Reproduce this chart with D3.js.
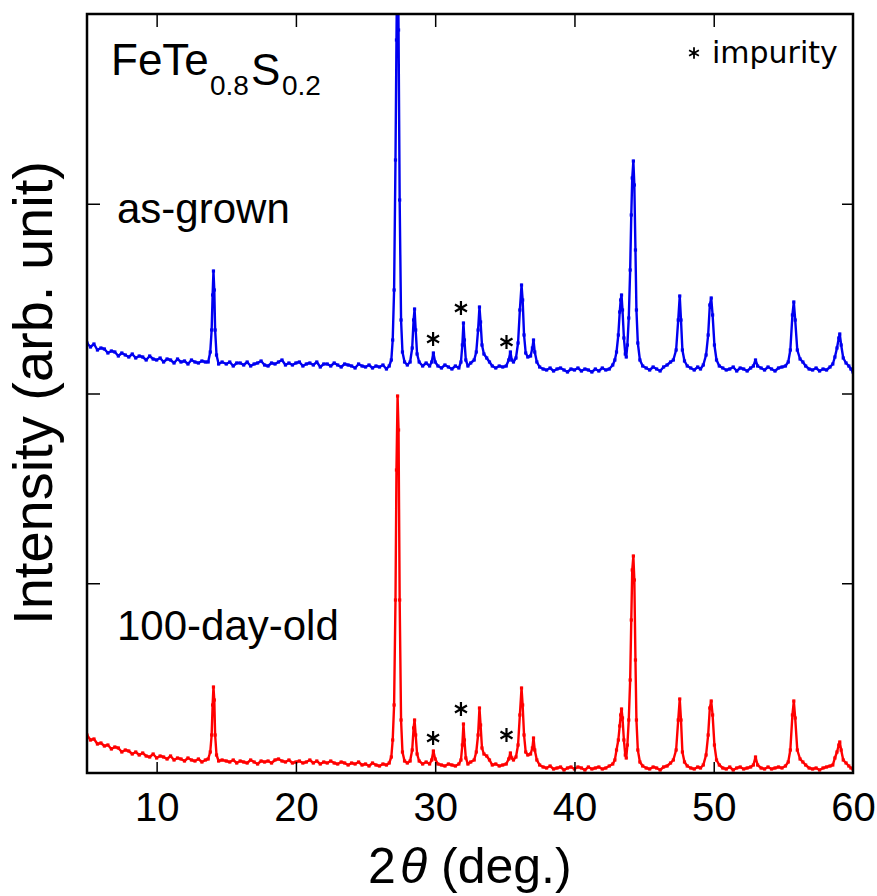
<!DOCTYPE html>
<html><head><meta charset="utf-8">
<script src="https://cdn.jsdelivr.net/npm/d3@7"></script>
<style>body{margin:0;background:#fff}svg{display:block}</style>
</head><body>
<script>
// 2θ (deg.) grid shared by both patterns
const angles = [5.0,5.25,5.5,5.75,6.0,6.25,6.5,6.75,7.0,7.25,7.5,7.75,8.0,8.25,8.5,8.75,9.0,9.25,9.5,9.75,10.0,10.25,10.5,10.75,11.0,11.25,11.5,11.75,12.0,12.25,12.5,12.75,13.0,13.25,13.5,
13.7,13.85,13.95,14.02,14.08,14.14,14.2,14.3,14.45,
14.7,15.0,15.25,15.5,15.75,16.0,16.25,16.5,16.75,17.0,17.25,17.5,17.75,18.0,18.25,18.5,18.75,19.0,19.25,19.5,19.75,20.0,20.25,20.5,20.75,21.0,21.25,21.5,21.75,22.0,22.25,22.5,22.75,23.0,23.25,23.5,23.75,24.0,24.25,24.5,24.75,25.0,25.25,25.5,25.75,26.0,26.25,26.5,
26.7,26.85,26.95,27.05,27.15,27.22,27.3,27.37,27.45,27.55,27.65,27.8,28.0,28.2,28.35,28.45,28.52,28.6,28.7,28.85,29.1,29.35,29.6,29.75,29.87,30.0,
30.2,30.45,30.7,30.95,31.2,31.45,31.7,
31.85,31.95,32.03,32.1,32.2,32.35,32.55,32.8,32.95,33.08,33.18,33.26,33.36,33.5,33.7,33.9,
34.1,34.35,34.6,34.85,35.1,
35.28,35.4,35.5,35.62,35.8,35.95,36.08,36.2,36.28,36.38,36.5,36.65,36.85,36.98,37.06,37.15,37.3,
37.5,37.75,38.0,38.25,38.5,38.75,39.0,39.25,39.5,39.75,40.0,40.25,40.5,40.75,41.0,41.25,41.5,41.75,42.0,42.25,42.5,42.75,
42.9,43.02,43.15,43.25,43.32,43.38,43.45,43.55,43.65,43.72,43.8,43.9,44.0,44.08,44.15,44.23,44.3,44.38,44.45,44.55,44.7,44.9,
45.15,45.4,45.65,45.9,46.15,46.4,
46.65,46.9,47.1,47.3,47.45,47.56,47.65,47.75,47.9,48.1,
48.35,48.6,48.85,49.05,
49.25,49.45,49.6,49.72,49.82,49.92,50.05,50.2,50.4,
50.65,50.9,51.15,51.4,51.65,51.9,52.15,52.4,52.65,
52.85,53.0,53.15,
53.4,53.65,53.9,54.15,54.4,54.65,54.9,55.15,
55.35,55.5,55.65,55.75,55.85,56.0,56.2,56.4,56.6,
56.85,57.1,57.35,57.6,57.85,58.1,58.35,
58.55,58.7,58.85,58.98,59.05,59.15,59.3,59.5,59.7,59.85,60.0];

// as-grown intensity (arb.), drawn with a vertical offset
const asGrown = [50,46,49,43,45,44,40,42,41,37,40,38,36,39,35,37,36,33,37,34,33,35,31,34,33,30,34,31,32,29,33,31,30,32,31,
31,41,63,98,122,103,63,38,29,
31,29,31,27,30,30,28,31,27,29,30,32,28,27,30,29,31,33,28,30,28,30,31,27,29,30,28,31,26,29,29,27,30,28,26,29,28,27,25,29,27,26,28,25,27,26,28,24,
27,33,53,103,233,353,473,363,193,73,41,31,28,31,45,73,84,63,39,31,27,30,27,31,40,31,
27,25,28,26,24,27,25,
31,48,70,53,33,27,30,33,41,63,86,71,48,39,35,31,
27,25,27,26,27,
33,41,33,31,35,50,83,108,93,58,40,36,37,45,53,41,31,
26,24,23,25,22,24,25,23,21,24,23,25,22,24,23,21,24,22,25,23,24,28,
33,41,58,81,93,98,83,55,39,36,48,75,123,178,215,232,208,143,83,50,33,27,
25,23,26,24,22,26,
28,31,33,43,73,97,73,43,32,27,
25,23,26,24,
28,38,58,88,95,78,48,33,27,
25,23,24,26,22,25,24,22,25,
27,33,27,
25,23,26,24,22,25,26,27,
31,43,78,91,73,43,34,31,27,
24,23,25,22,24,23,26,
29,36,45,55,59,48,35,30,27,24,21];

// 100-day-old intensity (arb.)
const dayOld = [38,33,34,29,30,27,28,24,26,25,21,23,22,19,21,18,20,17,16,19,15,17,16,14,17,13,15,14,12,15,13,12,14,11,13,
14,21,38,68,86,73,38,18,12,
13,12,11,13,10,12,11,10,13,11,9,12,11,12,10,13,14,12,11,13,10,11,12,10,11,13,10,12,9,11,10,12,10,9,11,10,8,10,9,11,8,9,7,10,8,7,9,8,
10,16,33,68,173,303,377,343,173,53,21,12,10,12,23,45,53,38,19,12,9,11,9,13,22,14,
9,8,7,9,8,7,9,
13,28,49,33,15,9,11,13,21,38,65,48,25,19,17,13,
8,9,7,8,9,
14,20,15,13,16,28,58,85,68,38,21,18,19,25,35,23,13,
8,6,5,7,4,5,6,3,5,6,4,6,5,3,6,4,5,6,4,5,7,9,
13,23,33,47,58,64,55,33,18,15,28,53,93,153,203,217,193,113,53,23,11,7,
5,4,6,5,3,6,
7,10,13,23,53,74,53,21,11,7,
5,4,6,5,
8,18,38,65,72,58,28,13,8,
5,4,6,3,5,6,4,5,6,
8,16,8,
5,4,6,4,5,6,5,7,
11,23,58,72,55,23,14,11,8,
5,4,5,3,5,6,7,
8,15,21,28,31,23,13,10,7,5,4];

const seriesNames = ["as-grown", "100-day-old"];
const seriesColors = ["#0000f0", "#ff0000"];
const seriesOffsets = [380, 0];

// impurity marks (2θ, intensity above the pattern)
const impurityAngles = [29.85, 31.85, 35.12];
const impurityAsGrown = [54, 85, 51];
const impurityDayOld = [35, 64, 38];

const xTicks = [10, 20, 30, 40, 50, 60];
const yTicks = [189.75, 379.5, 569.25];

const W = 877, H = 896;
const M = {left: 87, right: 853, top: 14, bottom: 773};

const svg = d3.select("body").append("svg").attr("width", W).attr("height", H);
const x = d3.scaleLinear().domain([5, 60]).range([M.left, M.right]);
const y = d3.scaleLinear().domain([0, 759]).range([M.bottom, M.top]);

svg.append("clipPath").attr("id", "clip").append("rect")
  .attr("x", M.left).attr("y", M.top).attr("width", M.right - M.left).attr("height", M.bottom - M.top);

const series = [asGrown, dayOld];
const line = d3.line().x(d => x(d[0])).y(d => y(d[1]));
const g = svg.append("g").attr("clip-path", "url(#clip)");
series.forEach((vals, i) => {
  const pts = angles.map((a, j) => [a, vals[j] + seriesOffsets[i]]);
  g.append("path").datum(pts).attr("d", line)
    .attr("fill", "none").attr("stroke", seriesColors[i]).attr("stroke-width", 2.4)
    .attr("stroke-linejoin", "round");
  g.selectAll(null).data(pts).enter().append("rect")
    .attr("x", d => x(d[0]) - 1.6).attr("y", d => y(d[1]) - 1.6)
    .attr("width", 3.2).attr("height", 3.2).attr("fill", seriesColors[i]);
});

// impurity asterisks
const star = d3.symbol().type(d3.symbolAsterisk).size(135);
[[impurityAsGrown, seriesOffsets[0]], [impurityDayOld, seriesOffsets[1]]].forEach(([vals, off]) => {
  impurityAngles.forEach((a, j) => {
    svg.append("path").attr("d", star)
      .attr("transform", `translate(${x(a)},${y(vals[j] + off)})`)
      .attr("fill", "none").attr("stroke", "#000").attr("stroke-width", 2.2);
  });
});

// axes: ticks inward on all four sides
const fontSans = "'Liberation Sans', Arial, sans-serif";
const xb = d3.axisBottom(x).tickValues(xTicks).tickSizeInner(-11).tickSizeOuter(0).tickPadding(20).tickFormat(d3.format("d"));
const axB = svg.append("g").attr("transform", `translate(0,${M.bottom})`).call(xb);
axB.select(".domain").remove();
axB.selectAll(".tick line").attr("stroke", "#000").attr("stroke-width", 1.5);
axB.selectAll(".tick text").attr("font-family", fontSans).attr("font-size", 40).attr("fill", "#000");
axB.selectAll(".tick").filter(d => d === 60).select("line").remove();

const xt = d3.axisTop(x).tickValues(xTicks.filter(d => d < 60)).tickSizeInner(-13).tickSizeOuter(0).tickFormat("");
const axT = svg.append("g").attr("transform", `translate(0,${M.top})`).call(xt);
axT.select(".domain").remove();
axT.selectAll(".tick line").attr("stroke", "#000").attr("stroke-width", 1.5);

const yl = d3.axisLeft(y).tickValues(yTicks).tickSizeInner(-13).tickSizeOuter(0).tickFormat("");
const axL = svg.append("g").attr("transform", `translate(${M.left},0)`).call(yl);
axL.select(".domain").remove();
axL.selectAll(".tick line").attr("stroke", "#000").attr("stroke-width", 1.5);

const yr = d3.axisRight(y).tickValues(yTicks).tickSizeInner(-11).tickSizeOuter(0).tickFormat("");
const axR = svg.append("g").attr("transform", `translate(${M.right},0)`).call(yr);
axR.select(".domain").remove();
axR.selectAll(".tick line").attr("stroke", "#000").attr("stroke-width", 1.5);

svg.append("rect").attr("x", M.left).attr("y", M.top)
  .attr("width", M.right - M.left).attr("height", M.bottom - M.top)
  .attr("fill", "none").attr("stroke", "#000").attr("stroke-width", 2.5);

// axis titles
svg.append("text").attr("transform", "translate(52,393) rotate(-90)")
  .attr("text-anchor", "middle").attr("font-family", fontSans).attr("font-size", 56)
  .attr("fill", "#000").text("Intensity (arb. unit)");

const xl = svg.append("text").attr("y", 883).attr("font-family", fontSans).attr("font-size", 50).attr("fill", "#000");
xl.append("tspan").attr("x", 368).text("2");
xl.append("tspan").attr("x", 400).attr("font-style", "italic").text("θ");
xl.append("tspan").attr("x", 441).text("(deg.)");

// compound label
const ct = svg.append("text").attr("font-family", fontSans).attr("fill", "#000");
ct.append("tspan").attr("x", 111).attr("y", 75).attr("font-size", 44).text("FeTe");
ct.append("tspan").attr("x", 210).attr("y", 95).attr("font-size", 28).text("0.8");
ct.append("tspan").attr("x", 251).attr("y", 85).attr("font-size", 44).text("S");
ct.append("tspan").attr("x", 282).attr("y", 95).attr("font-size", 28).text("0.2");

// series labels
svg.append("text").attr("x", 117).attr("y", 223).attr("font-family", fontSans).attr("font-size", 42)
  .attr("fill", "#000").text(seriesNames[0]);
svg.append("text").attr("x", 117).attr("y", 640).attr("font-family", fontSans).attr("font-size", 42)
  .attr("fill", "#000").text(seriesNames[1]);

// legend for impurity
svg.append("path").attr("d", d3.symbol().type(d3.symbolAsterisk).size(90))
  .attr("transform", "translate(694,53)").attr("fill", "none").attr("stroke", "#000").attr("stroke-width", 1.8);
svg.append("text").attr("x", 712).attr("y", 63).attr("font-family", "'DejaVu Sans', sans-serif")
  .attr("font-size", 30).attr("fill", "#000").text("impurity");
</script>
</body></html>
